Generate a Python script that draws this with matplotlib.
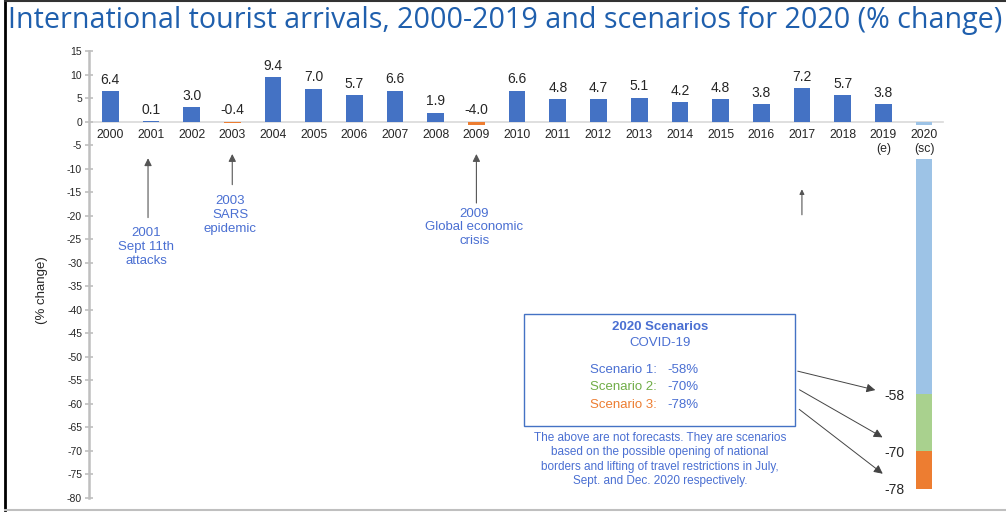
import numpy as np
import matplotlib.pyplot as plt
from matplotlib.patches import Rectangle
from matplotlib.lines import Line2D

plt.rcParams['font.family'] = ['Liberation Sans', 'DejaVu Sans']
plt.rcParams['axes.unicode_minus'] = False

# annual % change in international tourist arrivals
years = ["2000", "2001", "2002", "2003", "2004", "2005", "2006", "2007", "2008", "2009",
         "2010", "2011", "2012", "2013", "2014", "2015", "2016", "2017", "2018", "2019\n(e)",
         "2020\n(sc)"]
changes = [6.4, 0.1, 3.0, -0.4, 9.4, 7.0, 5.7, 6.6, 1.9, -4.0,
           6.6, 4.8, 4.7, 5.1, 4.2, 4.8, 3.8, 7.2, 5.7, 3.8]

# 2020 COVID-19 scenarios (stacked on the last bar)
scenario_names = ["Scenario 1:", "Scenario 2:", "Scenario 3:"]
scenario_values = [-58, -70, -78]
scenario_colors = ["#9dc3e6", "#a9d18e", "#ed7d31"]

BLUE = "#4472c4"
ORANGE = "#ed7d31"
NOTE = "#4a6fd2"

fig = plt.figure(figsize=(10.06, 5.14), dpi=100)
ax = fig.add_axes([0.0885, 0.0311, 0.849, 0.8697])

x = np.arange(len(changes))
bar_colors = [BLUE if v >= 0 else ORANGE for v in changes]
ax.bar(x, changes, width=0.41, color=bar_colors, zorder=1)
for xi, v in zip(x, changes):
    ax.annotate(f"{v:.1f}", (xi, max(v, 0)), xytext=(0, 3), textcoords="offset points",
                ha="center", va="bottom", fontsize=10, color="#262626")

# scenario bar for 2020
x20 = len(changes)
prev = 0
for val, col in zip(scenario_values, scenario_colors):
    ax.bar(x20, val - prev, bottom=prev, width=0.41, color=col, zorder=1)
    ax.text(x20 - 0.48, val - 0.4, f"{val}", ha="right", va="center",
            fontsize=10, color="#262626")
    prev = val

ax.set_xlim(-0.52, 20.47)
ax.set_ylim(-80, 15)
ax.set_yticks(np.arange(-80, 16, 5))
ax.set_xticks([])

# year labels sit on the zero line with a white backing over the bars
for xi, yr in enumerate(years):
    ax.annotate(yr, (xi, 0), xytext=(0, -5), textcoords="offset points",
                ha="center", va="top", fontsize=8.8, color="#262626", linespacing=1.3,
                bbox=dict(facecolor="white", edgecolor="none", pad=2.5), zorder=5)

ax.tick_params(axis="y", direction="inout", length=6, width=1.2, color="#bfbfbf",
               labelsize=7.5, labelcolor="#262626", pad=2)
for s in ["top", "right"]:
    ax.spines[s].set_visible(False)
ax.spines["left"].set_color("#bfbfbf")
ax.spines["left"].set_linewidth(1.8)
ax.spines["bottom"].set_position(("data", 0))
ax.spines["bottom"].set_color("#d9d9d9")
ax.spines["bottom"].set_linewidth(1.2)
ax.spines["bottom"].set_zorder(0.5)

ax.set_ylabel("(% change)", fontsize=9.5, color="#262626")
ax.yaxis.set_label_coords(-0.048, 0.465)

# event annotations
arrow_kw = dict(arrowstyle="-|>", color="#555555", lw=0.8, mutation_scale=11)
events = [
    (0.93, -7.2, -21.0, "2001\nSept 11th\nattacks", -22.5),
    (3.0, -6.3, -14.0, "2003\nSARS\nepidemic", -15.7),
    (9.0, -6.3, -17.9, "2009\nGlobal economic\ncrisis", -18.3),
]
for ex, tip, tail, txt, ty in events:
    ax.annotate("", xy=(ex, tip), xytext=(ex, tail), arrowprops=arrow_kw)
    ax.text(ex - 0.05, ty, txt, ha="center", va="top", fontsize=9.5, color=NOTE,
            linespacing=1.2)
ax.annotate("", xy=(17.0, -13.8), xytext=(17.0, -20.4),
            arrowprops=dict(arrowstyle="-|>", color="#555555", lw=0.8, mutation_scale=7))

# scenario box
ax.add_patch(Rectangle((10.17, -64.8), 6.66, 24.0, facecolor="white", edgecolor=BLUE,
                       lw=1.0, zorder=3))
ax.text(13.51, -43.6, "2020 Scenarios", ha="center", va="center", fontsize=9.5,
        fontweight="bold", color=NOTE, zorder=4)
ax.text(13.51, -47.0, "COVID-19", ha="center", va="center", fontsize=9.5, color=NOTE, zorder=4)
line_y = [-52.9, -56.5, -60.2]
name_colors = [NOTE, "#70ad47", ORANGE]
for name, val, ly, nc in zip(scenario_names, scenario_values, line_y, name_colors):
    ax.text(13.44, ly, name, ha="right", va="center", fontsize=9.5, color=nc, zorder=4)
    ax.text(13.69, ly, f"{val}%", ha="left", va="center", fontsize=9.5, color=NOTE, zorder=4)

ax.text(13.51, -66.0,
        "The above are not forecasts. They are scenarios\n"
        "based on the possible opening of national\n"
        "borders and lifting of travel restrictions in July,\n"
        "Sept. and Dec. 2020 respectively.",
        ha="center", va="top", fontsize=8.5, color=NOTE, linespacing=1.25)

# arrows from the box to the scenario values
starts = [(16.83, -52.9), (16.88, -56.7), (16.88, -60.8)]
tips = [(18.87, -57.2), (19.04, -67.4), (19.04, -75.2)]
for s0, t0 in zip(starts, tips):
    ax.annotate("", xy=t0, xytext=s0,
                arrowprops=dict(arrowstyle="-|>", color="#444444", lw=0.7, mutation_scale=13))

fig.text(0.008, 0.961, "International tourist arrivals, 2000-2019 and scenarios for 2020 (% change)",
         fontsize=20.6, family="Open Sans", color="#1f5fad", ha="left", va="center")

# frame
fig.add_artist(Line2D([0.0045, 0.0045], [0.008, 1.0], color="black", lw=2.0))
fig.add_artist(Line2D([0.0045, 1.0], [0.998, 0.998], color="#333333", lw=1.5))
fig.add_artist(Line2D([0.0045, 1.0], [0.008, 0.008], color="#bfbfbf", lw=1.5))

fig.savefig("out.png", dpi=100)
